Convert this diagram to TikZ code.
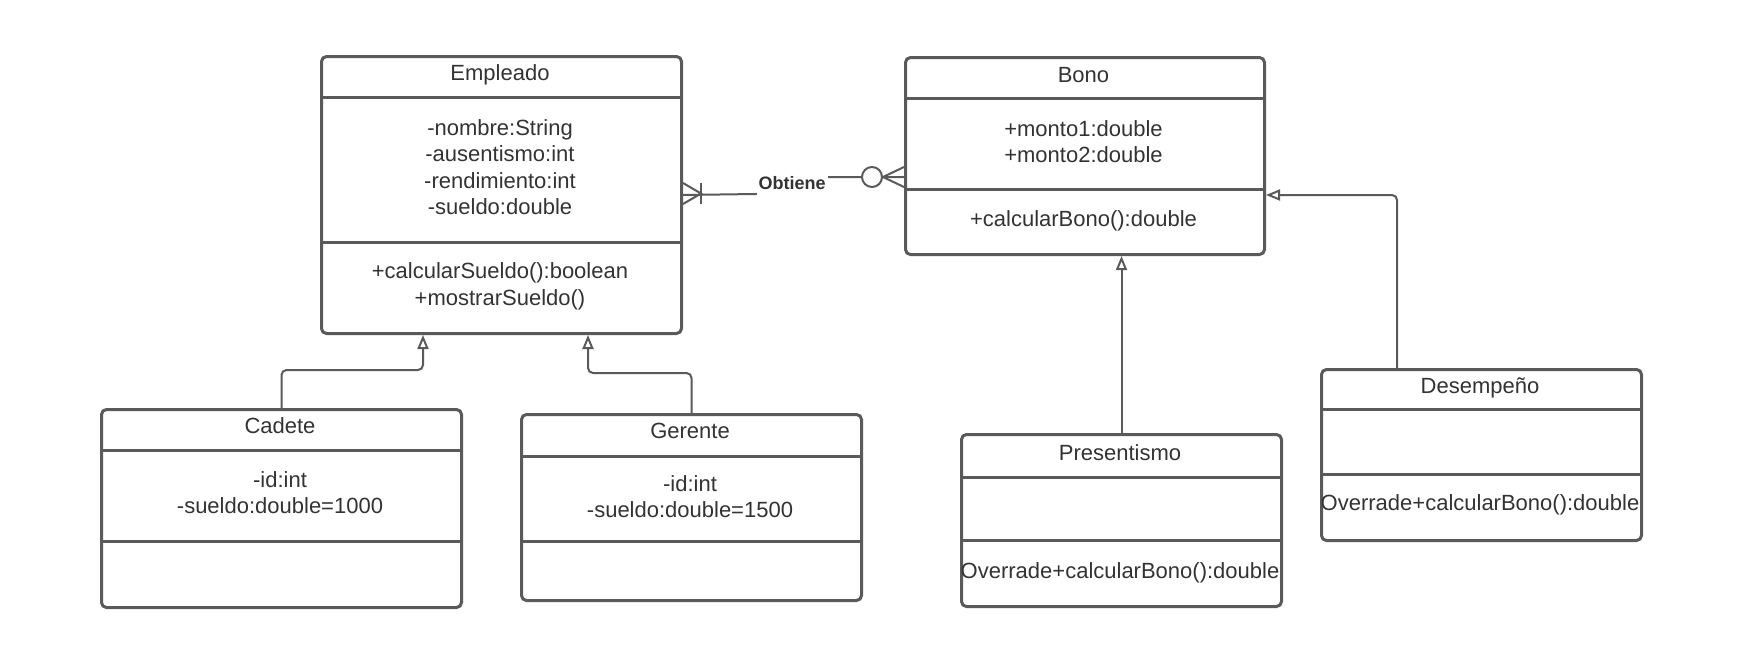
\documentclass[tikz,border=0pt]{standalone}
\usepackage{fontspec}
\setmainfont{Liberation Sans}
\usetikzlibrary{arrows.meta}
\definecolor{lc}{HTML}{5A5A5A}
\definecolor{tc}{HTML}{333333}
\begin{document}
\begin{tikzpicture}[x=0.5pt,y=-0.5pt,
  cls/.style={draw=lc, line width=1.5pt, rounded corners=2.5pt, fill=white, inner sep=0pt, anchor=north west},
  div/.style={draw=lc, line width=1.5pt},
  txt/.style={text=tc, font=\fontsize{11pt}{13.35pt}\selectfont, anchor=base, inner sep=0pt},
  gen/.style={draw=lc, line width=1pt, rounded corners=2.5pt, -{Triangle[open, length=7pt, width=5.5pt, fill=white]}},
  rel/.style={draw=lc, line width=1pt},
  lbl/.style={text=tc, font=\bfseries\fontsize{9pt}{11pt}\selectfont, fill=white, inner sep=1pt, text height=7.5pt, text depth=3pt, anchor=base},
]
\useasboundingbox[fill=white] (0,0) rectangle (1740,670);

% ---------- class boxes ----------
\node[cls, minimum width=180pt, minimum height=138.5pt] (emp) at (320,55) {};
\draw[div] (emp.west |- 0,97) -- (emp.east |- 0,97);
\draw[div] (emp.west |- 0,242) -- (emp.east |- 0,242);

\node[cls, minimum width=179.5pt, minimum height=98.5pt] (bono) at (904,56) {};
\draw[div] (bono.west |- 0,98) -- (bono.east |- 0,98);
\draw[div] (bono.west |- 0,189) -- (bono.east |- 0,189);

\node[cls, minimum width=180pt, minimum height=99pt] (cad) at (100,408) {};
\draw[div] (cad.west |- 0,450) -- (cad.east |- 0,450);
\draw[div] (cad.west |- 0,541) -- (cad.east |- 0,541);

\node[cls, minimum width=170pt, minimum height=93pt] (ger) at (520,413) {};
\draw[div] (ger.west |- 0,456) -- (ger.east |- 0,456);
\draw[div] (ger.west |- 0,541) -- (ger.east |- 0,541);

\node[cls, minimum width=160pt, minimum height=86pt] (pre) at (960,433) {};
\draw[div] (pre.west |- 0,477) -- (pre.east |- 0,477);
\draw[div] (pre.west |- 0,540) -- (pre.east |- 0,540);

\node[cls, minimum width=160pt, minimum height=85.5pt] (des) at (1320,368) {};
\draw[div] (des.west |- 0,409) -- (des.east |- 0,409);
\draw[div] (des.west |- 0,474) -- (des.east |- 0,474);

% ---------- texts ----------
\node[txt] (empT) at (500,80) {Empleado};
\node[txt] (empA1) at (500,135) {-nombre:String};
\node[txt] (empA2) at (500,161) {-ausentismo:int};
\node[txt] (empA3) at (500,188) {-rendimiento:int};
\node[txt] (empA4) at (500,214) {-sueldo:double};
\node[txt] (empM1) at (500,278) {+calcularSueldo():boolean};
\node[txt] (empM2) at (500,305) {+mostrarSueldo()};

\node[txt] (bonoT) at (1083.5,82) {Bono};
\node[txt] (bonoA1) at (1083.5,136) {+monto1:double};
\node[txt] (bonoA2) at (1083.5,162) {+monto2:double};
\node[txt] (bonoM1) at (1083.5,226) {+calcularBono():double};

\node[txt] (cadT) at (280,433) {Cadete};
\node[txt] (cadA1) at (280,487) {-id:int};
\node[txt] (cadA2) at (280,513) {-sueldo:double=1000};

\node[txt] (gerT) at (690,438) {Gerente};
\node[txt] (gerA1) at (690,491) {-id:int};
\node[txt] (gerA2) at (690,517) {-sueldo:double=1500};

\node[txt] (preT) at (1120,460) {Presentismo};
\node[txt] (preM1) at (1120,578) {Overrade+calcularBono():double};

\node[txt] (desT) at (1480,393) {Desempeño};
\node[txt] (desM1) at (1480,510) {Overrade+calcularBono():double};

% ---------- generalizations ----------
\draw[gen] (cad.north) -- (cad.north |- 0,370) -| (emp.south -| 423,0);
\draw[gen] (ger.north) -- (ger.north |- 0,373) -| (emp.south -| 588,0);
\draw[gen] (pre.north) -- (bono.south -| pre.north);
\draw[gen] (des.north -| 1397,0) |- (bono.east |- 0,195);

% ---------- association Obtiene ----------
\draw[rel] (emp.east) -- (792,193.5) -- (792,177) -- (bono.west |- 0,177);
\draw[rel] (emp.east |- 0,183) -- (701,193.5) -- (emp.east |- 0,204);
\draw[rel] (701,183) -- (701,204);
\draw[rel, fill=white] (872,177) circle (10);
\draw[rel] (bono.west |- 0,167) -- (883,177) -- (bono.west |- 0,187);
\node[lbl] (obt) at (792,189) {Obtiene};
\end{tikzpicture}
\end{document}
